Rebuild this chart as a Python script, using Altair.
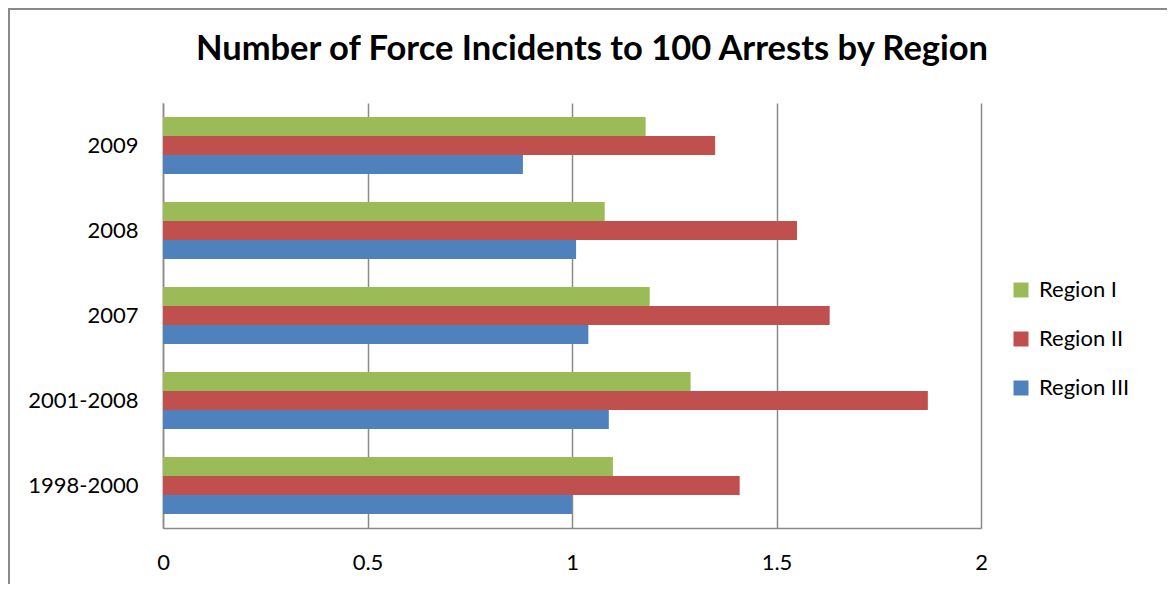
import altair as alt
import pandas as pd

categories = ["2009", "2008", "2007", "2001-2008", "1998-2000"]
series = ["Region I", "Region II", "Region III"]
region_1 = [1.18, 1.08, 1.19, 1.29, 1.10]
region_2 = [1.35, 1.55, 1.63, 1.87, 1.41]
region_3 = [0.88, 1.01, 1.04, 1.09, 1.00]
colors = ["#9BBB59", "#C0504D", "#4F81BD"]
x_ticks = [0, 0.5, 1, 1.5, 2]
title_text = "Number of Force Incidents to 100 Arrests by Region"

rows = []
for s, vals in zip(series, [region_1, region_2, region_3]):
    for c, v in zip(categories, vals):
        rows.append({"Period": c, "Region": s, "Value": v})
df = pd.DataFrame(rows)

FONT = "Lato"
GRID = "#8a8a8a"

bars = alt.Chart(df).mark_bar().encode(
    y=alt.Y("Period:N", sort=categories,
            scale=alt.Scale(paddingInner=0.33, paddingOuter=0.165),
            axis=alt.Axis(title=None, ticks=False, labelPadding=25,
                          labelFontSize=22, labelFont=FONT, labelColor="#000000",
                          domainColor=GRID, domainWidth=1.5, grid=False)),
    yOffset=alt.YOffset("Region:N", sort=series, scale=alt.Scale(paddingInner=0, paddingOuter=0)),
    x=alt.X("Value:Q", scale=alt.Scale(domain=[0, 2], nice=False),
            axis=alt.Axis(title=None, values=x_ticks, ticks=False, labelPadding=24,
                          labelExpr="datum.value + ''",
                          labelFontSize=22, labelFont=FONT, labelColor="#000000",
                          labelFlush=False,
                          domainColor=GRID, domainWidth=1.5,
                          grid=True, gridColor=GRID, gridWidth=1.5)),
    color=alt.Color("Region:N", sort=series,
                    scale=alt.Scale(domain=series, range=colors),
                    legend=alt.Legend(title=None, orient="none", legendX=847, legendY=176,
                                      symbolType="square", symbolSize=225,
                                      symbolStrokeWidth=0, labelFontSize=22,
                                      labelFont=FONT, labelColor="#000000",
                                      labelOffset=7, rowPadding=27, padding=0)),
)

title = alt.Chart(pd.DataFrame({"t": [title_text]})).mark_text(
    font=FONT, fontSize=34.5, fontWeight="bold", color="#000000",
    align="center", baseline="alphabetic",
).encode(text="t:N", x=alt.value(429), y=alt.value(-43))

frame_top = alt.Chart(df).mark_rule(color=GRID, strokeWidth=2).encode(
    x=alt.value(-155), x2=alt.value(1004), y=alt.value(-94)
)
frame_left = alt.Chart(df).mark_rule(color=GRID, strokeWidth=2).encode(
    x=alt.value(-154), y=alt.value(-95), y2=alt.value(481)
)

chart = alt.layer(bars, title, frame_top, frame_left).properties(
    width=818,
    height=425,
    padding={"left": 155, "top": 95, "right": 186, "bottom": 56},
    autosize=alt.AutoSizeParams(type="none"),
).configure_view(stroke=None)

chart.save("out.html", embed_options={"renderer": "svg", "actions": False})
